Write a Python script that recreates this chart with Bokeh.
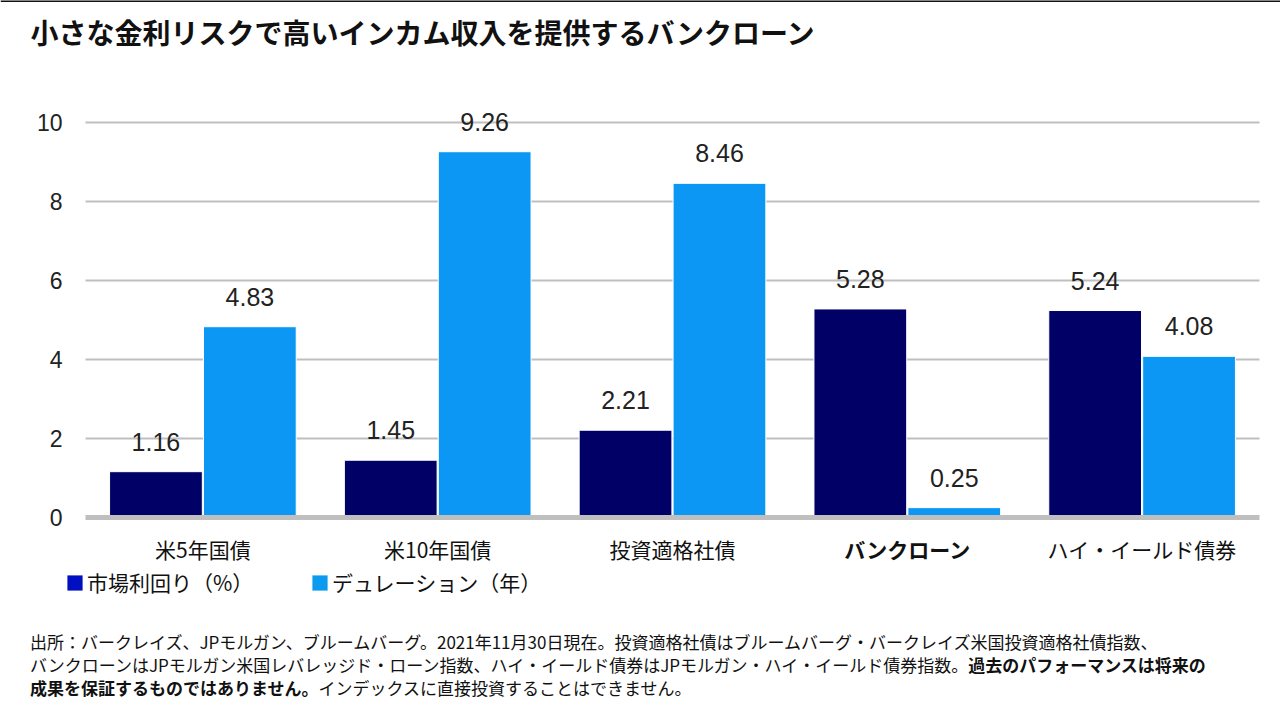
from bokeh.plotting import figure
from bokeh.models import (ColumnDataSource, Range1d, Label, Legend, LegendItem, Div)
from bokeh.layouts import column
from bokeh.transform import dodge
from bokeh.core.properties import value
from bokeh.embed import file_html
from bokeh.resources import INLINE

categories = ["米5年国債", "米10年国債", "投資適格社債", "バンクローン", "ハイ・イールド債券"]
yield_pct = [1.16, 1.45, 2.21, 5.28, 5.24]
duration_yrs = [4.83, 9.26, 8.46, 0.25, 4.08]
cat_styles = ["normal", "normal", "normal", "bold", "normal"]
y_ticks = [0, 2, 4, 6, 8, 10]
series_names = ["市場利回り（%）", "デュレーション（年）"]
title_text = "小さな金利リスクで高いインカム収入を提供するバンクローン"

DARK = "#000066"
LIGHT = "#0B97F3"
LEG_DARK = "#0010C0"
LEG_LIGHT = "#0A9BEF"
JP = "Noto Sans CJK JP"
NUM = "Liberation Sans"

W, H = 1280, 620
n = len(categories)
pos = list(range(n))

# layout geometry (pixels)
PLOT_L, PLOT_R, ZERO_Y, PX_PER_UNIT = 85, 1259, 517, 39.5
grp_px = (PLOT_R - PLOT_L) / n
x_start = -0.5 - PLOT_L / grp_px
x_end = (n - 0.5) + (W - PLOT_R) / grp_px
y_start = -(H - ZERO_Y) / PX_PER_UNIT
y_end = ZERO_Y / PX_PER_UNIT

src = ColumnDataSource(dict(
    pos=pos,
    cat=categories,
    yld=yield_pct,
    dur=duration_yrs,
    yld_txt=[f"{v:.2f}" for v in yield_pct],
    dur_txt=[f"{v:.2f}" for v in duration_yrs],
    style=cat_styles,
    zero=[0] * n,
))
grid_src = ColumnDataSource(dict(
    y=y_ticks,
    x0=[-0.5] * len(y_ticks),
    lbl=[str(t) for t in y_ticks],
))

p = figure(width=W, height=H, output_backend="svg", toolbar_location=None,
           x_range=Range1d(x_start, x_end), y_range=Range1d(y_start, y_end),
           x_axis_location=None, y_axis_location=None,
           min_border=0, min_border_left=0, min_border_right=0,
           min_border_top=0, min_border_bottom=0)
p.outline_line_color = None
p.background_fill_color = "white"
p.border_fill_color = "white"
p.grid.visible = False

# thin rule at the very top of the slide
p.segment(x0=[x_start], x1=[x_end], y0=[y_end], y1=[y_end],
          line_color="#111111", line_width=3)

# gridlines (2..10)
gl = [t for t in y_ticks if t != 0]
p.segment(x0=[-0.5] * len(gl), x1=[n - 0.5] * len(gl), y0=gl, y1=gl,
          line_color="#BFBFBF", line_width=2)

# y tick labels
p.text(x="x0", y="y", text="lbl", source=grid_src, x_offset=-23,
       text_align="right", text_baseline="middle",
       text_font=value(NUM), text_font_size="23px", text_color="#222222")

# bars
p.vbar(x=dodge("pos", -0.2), top="yld", width=0.395, source=src,
       fill_color=DARK, line_color="white", line_width=1)
p.vbar(x=dodge("pos", 0.2), top="dur", width=0.395, source=src,
       fill_color=LIGHT, line_color="white", line_width=1)
# baseline at 0
p.segment(x0=[-0.5], x1=[n - 0.5], y0=[0], y1=[0],
          line_color="#BFBFBF", line_width=5)

# value labels
p.text(x=dodge("pos", -0.2), y="yld", text="yld_txt", source=src,
       text_align="center", text_baseline="bottom", y_offset=-21,
       text_font=value(NUM), text_font_size="25px", text_color="#222222")
p.text(x=dodge("pos", 0.2), y="dur", text="dur_txt", source=src,
       text_align="center", text_baseline="bottom", y_offset=-21,
       text_font=value(NUM), text_font_size="25px", text_color="#222222")

# category labels
p.text(x="pos", y="zero", text="cat", source=src, y_offset=31,
       text_align="center", text_baseline="middle",
       text_font=value(JP), text_font_size="21px",
       text_font_style="style", text_color="#111111")

# title
p.add_layout(Label(x=-0.5, y=(ZERO_Y - 31) / PX_PER_UNIT, x_offset=-55,
                   text=title_text, text_baseline="middle",
                   text_font=JP, text_font_size="28px", text_font_style="bold",
                   text_color="#111111"))

# legends (zero-height proxy renderers, invisible on the chart)
px1 = ColumnDataSource(dict(x=[0], top=[0]))
px2 = ColumnDataSource(dict(x=[0], top=[0]))
r1 = p.vbar(x="x", top="top", bottom="top", width=0.3, source=px1,
            fill_color=LEG_DARK, line_color=None)
r2 = p.vbar(x="x", top="top", bottom="top", width=0.3, source=px2,
            fill_color=LEG_LIGHT, line_color=None)
for r, name, loc in [(r1, series_names[0], (65, H - 597)), (r2, series_names[1], (310, H - 597))]:
    lg = Legend(items=[LegendItem(label=name, renderers=[r])], location=loc,
                glyph_width=19, glyph_height=19, label_height=19, padding=0, margin=0,
                label_standoff=3, border_line_alpha=0, background_fill_alpha=0,
                label_text_font=JP, label_text_font_size="21px",
                label_text_color="#111111", label_text_baseline="middle")
    p.add_layout(lg, "center")

foot = Div(text=(
    "出所：バークレイズ、JPモルガン、ブルームバーグ。2021年11月30日現在。投資適格社債はブルームバーグ・バークレイズ米国投資適格社債指数、<br>"
    "バンクローンはJPモルガン米国レバレッジド・ローン指数、ハイ・イールド債券はJPモルガン・ハイ・イールド債券指数。<b>過去のパフォーマンスは将来の</b><br>"
    "<b>成果を保証するものではありません。</b>インデックスに直接投資することはできません。"),
    width=1240, height=72, margin=(10, 0, 0, 30),
    styles={"font-family": JP, "font-size": "17px", "line-height": "23px",
            "color": "#111111", "white-space": "nowrap"})

layout = column(p, foot, spacing=0)
open("out.html", "w").write(file_html(layout, INLINE))
